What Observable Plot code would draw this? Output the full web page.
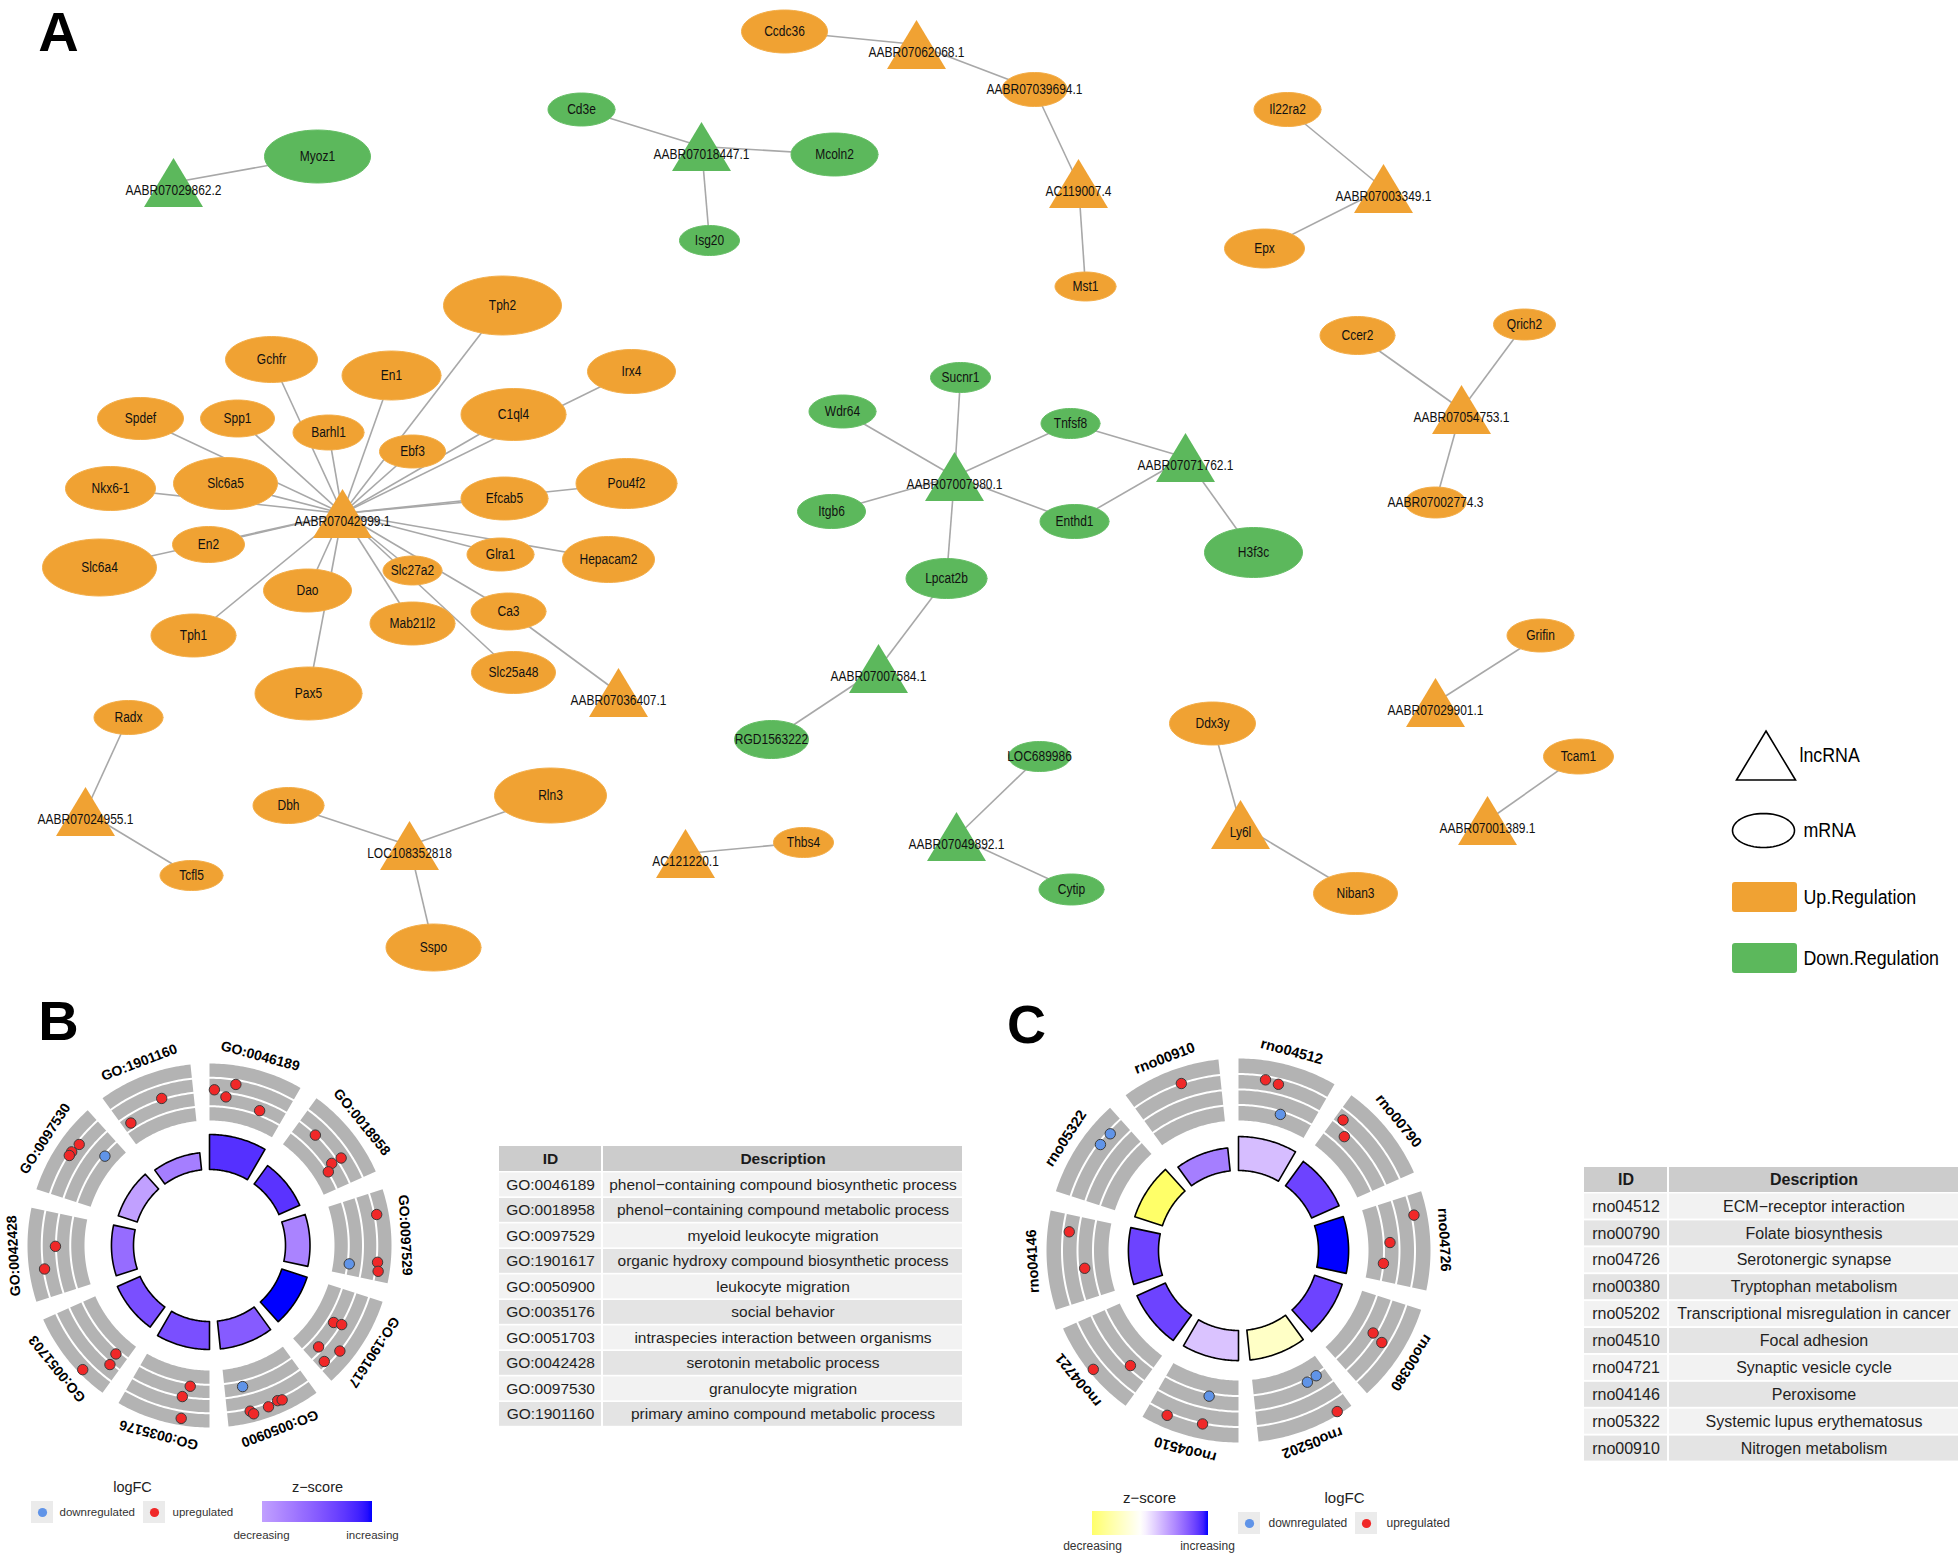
<!DOCTYPE html>
<html>
<head>
<meta charset="utf-8">
<script src="https://cdn.jsdelivr.net/npm/d3@7"></script>
<script src="https://cdn.jsdelivr.net/npm/@observablehq/plot@0.6"></script>
<style>
html,body{margin:0;padding:0;background:#fff;}
#fig{position:relative;width:1960px;height:1556px;overflow:hidden;background:#fff;}
#fig > div{position:absolute;}
#fig svg{display:block;max-width:none;}
</style>
</head>
<body>
<div id="fig"></div>
<script>
// ================= DATA =================
// Panel A: lncRNA–mRNA network
const lncNames = ["AABR07029862.2","AABR07062068.1","AABR07018447.1","AC119007.4","AABR07003349.1","AABR07054753.1","AABR07071762.1","AABR07007980.1","AABR07042999.1","AABR07036407.1","AABR07007584.1","AABR07029901.1","AABR07024955.1","AABR07001389.1","Ly6l","LOC108352818","AC121220.1","AABR07049892.1"];
const lncRegulation = ["Down","Up","Down","Up","Up","Up","Down","Down","Up","Up","Down","Up","Up","Up","Up","Up","Up","Down"];
const mrnaNames = ["Myoz1","Cd3e","Mcoln2","Isg20","Ccdc36","AABR07039694.1","Mst1","Il22ra2","Epx","Ccer2","Qrich2","AABR07002774.3","Tph2","Gchfr","En1","Irx4","Spdef","Spp1","Barhl1","C1ql4","Ebf3","Nkx6-1","Slc6a5","Efcab5","Pou4f2","En2","Slc6a4","Glra1","Hepacam2","Slc27a2","Dao","Ca3","Mab21l2","Tph1","Slc25a48","Pax5","Radx","Tcfl5","Dbh","Rln3","Sspo","Sucnr1","Wdr64","Tnfsf8","Itgb6","Enthd1","Lpcat2b","RGD1563222","LOC689986","Cytip","Thbs4","Ddx3y","Grifin","Tcam1","Niban3","H3f3c"];
const mrnaRegulation = ["Down","Down","Down","Down","Up","Up","Up","Up","Up","Up","Up","Up","Up","Up","Up","Up","Up","Up","Up","Up","Up","Up","Up","Up","Up","Up","Up","Up","Up","Up","Up","Up","Up","Up","Up","Up","Up","Up","Up","Up","Up","Down","Down","Down","Down","Down","Down","Down","Down","Down","Up","Up","Up","Up","Up","Down"];
const interactions = [
  ["AABR07029862.2","Myoz1"],
  ["AABR07018447.1","Cd3e"],["AABR07018447.1","Mcoln2"],["AABR07018447.1","Isg20"],
  ["AABR07062068.1","Ccdc36"],["AABR07062068.1","AABR07039694.1"],
  ["AC119007.4","AABR07039694.1"],["AC119007.4","Mst1"],
  ["AABR07003349.1","Il22ra2"],["AABR07003349.1","Epx"],
  ["AABR07054753.1","Ccer2"],["AABR07054753.1","Qrich2"],["AABR07054753.1","AABR07002774.3"],
  ["AABR07042999.1","Tph2"],["AABR07042999.1","Gchfr"],["AABR07042999.1","En1"],["AABR07042999.1","Irx4"],
  ["AABR07042999.1","C1ql4"],["AABR07042999.1","Spdef"],["AABR07042999.1","Spp1"],["AABR07042999.1","Barhl1"],
  ["AABR07042999.1","Ebf3"],["AABR07042999.1","Nkx6-1"],["AABR07042999.1","Slc6a5"],["AABR07042999.1","Efcab5"],
  ["AABR07042999.1","Pou4f2"],["AABR07042999.1","En2"],["AABR07042999.1","Slc6a4"],["AABR07042999.1","Glra1"],
  ["AABR07042999.1","Hepacam2"],["AABR07042999.1","Slc27a2"],["AABR07042999.1","Dao"],["AABR07042999.1","Pax5"],
  ["AABR07042999.1","Ca3"],["AABR07042999.1","Mab21l2"],["AABR07042999.1","Tph1"],["AABR07042999.1","Slc25a48"],
  ["AABR07036407.1","Ca3"],
  ["AABR07007980.1","Sucnr1"],["AABR07007980.1","Wdr64"],["AABR07007980.1","Tnfsf8"],["AABR07007980.1","Itgb6"],
  ["AABR07007980.1","Enthd1"],["AABR07007980.1","Lpcat2b"],
  ["AABR07071762.1","Tnfsf8"],["AABR07071762.1","Enthd1"],["AABR07071762.1","H3f3c"],
  ["AABR07007584.1","Lpcat2b"],["AABR07007584.1","RGD1563222"],
  ["AABR07024955.1","Radx"],["AABR07024955.1","Tcfl5"],
  ["LOC108352818","Dbh"],["LOC108352818","Rln3"],["LOC108352818","Sspo"],
  ["AC121220.1","Thbs4"],
  ["AABR07049892.1","LOC689986"],["AABR07049892.1","Cytip"],
  ["Ly6l","Ddx3y"],["Ly6l","Niban3"],
  ["AABR07029901.1","Grifin"],
  ["AABR07001389.1","Tcam1"]
];
const networkLegendLabels = ["lncRNA","mRNA","Up.Regulation","Down.Regulation"];

// Network layout (node centres; ellipse width/height for mRNA)
const lncLayout = [[173,182],[916,44],[701,146],[1078,183],[1383,188],[1461,409],[1185,457],[954,476],[342,513],[618,692],[878,668],[1435,702],[85,811],[1487,820],[1240,824],[409,845],[685,853],[956,836]];
const mrnaLayout = [[317,156,106,53],[581,109,67,33],[834,154,87,43],[709,240,60,30],[784,31,86,43],[1034,89,65,34],[1085,286,61,29],[1287,109,67,34],[1264,248,80,39],[1357,335,75,38],[1524,324,62,31],[1435,502,61,31],[502,305,118,59],[271,359,92,46],[391,375,99,49],[631,371,88,44],[140,418,86,42],[237,418,74,37],[328,432,71,35],[513,414,105,52],[412,451,66,33],[110,488,90,44],[225,483,104,52],[504,498,87,43],[626,483,101,50],[208,544,72,36],[99,567,114,57],[500,554,67,33],[608,559,92,46],[412,570,59,29],[307,590,88,43],[508,611,75,37],[412,623,85,43],[193,635,85,43],[513,672,84,42],[308,693,107,53],[128,717,69,34],[191,875,63,30],[288,805,71,36],[550,795,112,55],[433,947,95,47],[960,377,60,30],[842,411,67,33],[1070,423,59,30],[831,511,68,34],[1074,521,69,34],[946,578,81,40],[771,739,74,38],[1039,756,62,30],[1071,889,65,31],[803,842,60,30],[1212,723,86,43],[1540,635,67,33],[1578,756,70,35],[1355,893,84,42],[1253,552,98,50]];

// Panel B: GO terms
const goIds = ["GO:0046189","GO:0018958","GO:0097529","GO:1901617","GO:0050900","GO:0035176","GO:0051703","GO:0042428","GO:0097530","GO:1901160"];
const goDescriptions = ["phenol\u2212containing compound biosynthetic process","phenol\u2212containing compound metabolic process","myeloid leukocyte migration","organic hydroxy compound biosynthetic process","leukocyte migration","social behavior","intraspecies interaction between organisms","serotonin metabolic process","granulocyte migration","primary amino compound metabolic process"];
const goZscores = [3.5, 3.45, 2.1, 4.0, 2.8, 3.0, 3.0, 2.5, 1.6, 2.2];
const goSignificance = [5.0, 3.25, 3.5, 3.8, 4.0, 4.0, 3.55, 3.15, 2.85, 2.45];   // −log10(adj. p), bar height
// genes per term: [position within sector 0..1, logFC track level 0..1, direction]
const goGenes = [
  [[.06,.54,"up"],[.21,.43,"up"],[.31,.67,"up"],[.68,.33,"up"]],
  [[.26,.49,"up"],[.67,.39,"up"],[.68,.58,"up"],[.74,.26,"up"]],
  [[.25,.79,"up"],[.85,.28,"down"],[.79,.77,"up"],[.89,.80,"up"]],
  [[.46,.37,"up"],[.43,.51,"up"],[.83,.42,"up"],[.70,.75,"up"],[.91,.67,"up"]],
  [[.76,.35,"down"],[.74,.80,"up"],[.71,.86,"up"],[.53,.82,"up"],[.41,.78,"up"],[.36,.80,"up"]],
  [[.26,.30,"up"],[.34,.50,"up"],[.31,.88,"up"]],
  [[.16,.32,"up"],[.13,.53,"up"],[.32,.92,"up"]],
  [[.59,.51,"up"],[.33,.73,"up"]],
  [[.66,.70,"up"],[.54,.73,"up"],[.49,.73,"up"],[.75,.22,"down"]],
  [[.60,.52,"up"],[.11,.36,"up"]]
];

// Panel C: KEGG pathways
const keggIds = ["rno04512","rno00790","rno04726","rno00380","rno05202","rno04510","rno04721","rno04146","rno05322","rno00910"];
const keggDescriptions = ["ECM\u2212receptor interaction","Folate biosynthesis","Serotonergic synapse","Tryptophan metabolism","Transcriptional misregulation in cancer","Focal adhesion","Synaptic vesicle cycle","Peroxisome","Systemic lupus erythematosus","Nitrogen metabolism"];
const keggZscores = [1.1, 3.2, 4.0, 3.2, -1.2, 1.0, 3.2, 3.2, -3.0, 2.2];
const keggSignificance = [4.85, 4.3, 4.3, 4.15, 4.3, 4.3, 4.45, 4.3, 4.15, 3.3];
const keggGenes = [
  [[.30,.69,"up"],[.45,.66,"up"],[.57,.20,"down"]],
  [[.09,.60,"up"],[.23,.41,"up"]],
  [[.22,.79,"up"],[.50,.35,"up"],[.77,.25,"up"]],
  [[.45,.45,"up"],[.49,.65,"up"]],
  [[.28,.30,"down"],[.14,.28,"down"],[.15,.95,"up"]],
  [[.38,.30,"down"],[.78,.80,"up"],[.39,.76,"up"]],
  [[.24,.45,"up"],[.49,.93,"up"]],
  [[.81,.65,"up"],[.38,.40,"up"]],
  [[.81,.70,"down"],[.65,.71,"down"]],
  [[.57,.75,"up"]]
];
const logfcLabels = ["downregulated","upregulated"];
const zscoreEnds = ["decreasing","increasing"];
const tableHeader = ["ID","Description"];

// ================= STYLE =================
const ORANGE = "#F0A233", GREEN = "#5CB85C", EDGE = "#A8A8A8";
const RED = "#F02828", BLUE = "#6094E8";
const FONT = "'Liberation Sans', Arial, Helvetica, sans-serif";
const fig = document.getElementById("fig");
function place(el, left, top){ const d = document.createElement("div"); d.style.left = left+"px"; d.style.top = top+"px"; d.appendChild(el); fig.appendChild(d); }
// horizontally condense labels (the original network figure uses a narrow face)
function condense(svg, items, sx){
  const byName = new Map(items.map(d => [d.t, d]));
  svg.querySelectorAll("text").forEach(t => {
    const d = byName.get(t.textContent);
    if (!d) return;
    t.setAttribute("transform", `translate(${d.x},${d.y}) scale(${sx},1)`);
  });
}

// ================= PANEL A =================
const pos = new Map();
const lncNodes = lncNames.map((name,i) => { const [x,y] = lncLayout[i]; pos.set(name,[x,y]); return {name, reg: lncRegulation[i], x, y}; });
const mrnaNodes = mrnaNames.map((name,i) => { const [x,y,w,h] = mrnaLayout[i]; pos.set(name,[x,y]); return {name, reg: mrnaRegulation[i], x, y, w, h}; });
const edgeData = interactions.map(([a,b]) => ({x1: pos.get(a)[0], y1: pos.get(a)[1], x2: pos.get(b)[0], y2: pos.get(b)[1]}));
const ellipse = (n, steps = 60) => d3.range(steps + 1).map(k => { const t = 2*Math.PI*k/steps; return {id: n.name, reg: n.reg, x: n.x + n.w/2*Math.cos(t), y: n.y + n.h/2*Math.sin(t)}; });
const ellipsePts = mrnaNodes.flatMap(n => ellipse(n));
const triSym = {draw(ctx){ ctx.moveTo(0,-24.5); ctx.lineTo(29.5,24.5); ctx.lineTo(-29.5,24.5); ctx.closePath(); }};
const nodeLabels = [
  ...mrnaNodes.map(n => ({t: n.name, x: n.x, y: n.y})),
  ...lncNodes.map(n => ({t: n.name, x: n.x, y: n.y + 8}))
];

const legA = {
  tri: {x:1765.5, y:755},
  ell: {name:"leg", x:1763, y:830, w:62, h:34},
  rects: [{x1:1732,x2:1797,y1:882,y2:912,reg:"Up"},{x1:1732,x2:1797,y1:943,y2:973,reg:"Down"}],
  text: [{x:1799,y:755},{x:1803,y:830},{x:1803,y:897},{x:1803,y:958}].map((p,i) => ({...p, t: networkLegendLabels[i]}))
};

const H_A = 990;
const plotA = Plot.plot({
  width: 1960, height: H_A, margin: 0,
  style: {fontFamily: FONT, background: "transparent"},
  x: {domain: [0,1960], range: [0,1960], axis: null},
  y: {domain: [0,H_A], range: [0,H_A], axis: null},
  marks: [
    Plot.link(edgeData, {x1:"x1", y1:"y1", x2:"x2", y2:"y2", stroke: EDGE, strokeWidth: 1.6}),
    Plot.line(ellipsePts.filter(d => d.reg === "Up"), {x:"x", y:"y", z:"id", fill: ORANGE, stroke: "#F3AE4A", strokeWidth: 1}),
    Plot.line(ellipsePts.filter(d => d.reg === "Down"), {x:"x", y:"y", z:"id", fill: GREEN, stroke: "#66BE66", strokeWidth: 1}),
    Plot.dot(lncNodes.filter(d => d.reg === "Up"), {x:"x", y:"y", symbol: triSym, fill: ORANGE}),
    Plot.dot(lncNodes.filter(d => d.reg === "Down"), {x:"x", y:"y", symbol: triSym, fill: GREEN}),
    Plot.text(nodeLabels, {x:"x", y:"y", text:"t", fontSize: 15, fill: "#111"}),
    // legend
    Plot.dot([legA.tri], {x:"x", y:"y", symbol: triSym, fill: "none", stroke: "#000", strokeWidth: 1.6}),
    Plot.line(ellipse(legA.ell), {x:"x", y:"y", stroke: "#000", strokeWidth: 1.6, fill: "none"}),
    Plot.rect(legA.rects.filter(d => d.reg === "Up"), {x1:"x1", x2:"x2", y1:"y1", y2:"y2", fill: ORANGE, rx: 3}),
    Plot.rect(legA.rects.filter(d => d.reg === "Down"), {x1:"x1", x2:"x2", y1:"y1", y2:"y2", fill: GREEN, rx: 3}),
    Plot.text(legA.text, {x:"x", y:"y", text:"t", textAnchor: "start", fontSize: 20, fill: "#000"}),
    Plot.text([{t:"A", x:58, y:33}], {x:"x", y:"y", text:"t", fontSize: 56, fontWeight: "bold", fill: "#000"})
  ]
});
condense(plotA, nodeLabels, 0.8);
condense(plotA, legA.text, 0.89);
place(plotA, 0, 0);

// ================= GO CIRCLES =================
function polar(c, a, r){ const t = a*Math.PI/180; return [c.cx + r*Math.sin(t), c.cy - c.sy*r*Math.cos(t)]; }
function annulus(c, a0, a1, r0, r1, extra){
  const pts = [], N = 40;
  for (let k = 0; k <= N; k++){ const [x,y] = polar(c, a0+(a1-a0)*k/N, r1); pts.push({...extra, x, y}); }
  for (let k = N; k >= 0; k--){ const [x,y] = polar(c, a0+(a1-a0)*k/N, r0); pts.push({...extra, x, y}); }
  pts.push({...pts[0]});
  return pts;
}
function goCircle(cfg){
  const {ids, z, sig, genes, c, rz0, rzUnit, rt, rl, labelSize, W, H, letter, leg, gradId, legFont} = cfg;
  const bars = [], tracks = [], grid = [], dots = [], labels = [];
  ids.forEach((id, i) => {
    const a0 = i*36, a1 = a0 + 30;
    bars.push(...annulus(c, a0, a1, rz0, rz0 + rzUnit*sig[i], {id, zscore: z[i]}));
    tracks.push(...annulus(c, a0, a1, rt[0], rt[1], {id}));
    [0.25, 0.5, 0.75].forEach(f => {
      const r = rt[0] + f*(rt[1]-rt[0]);
      for (let k = 0; k <= 40; k++){ const [x,y] = polar(c, a0+(a1-a0)*k/40, r); grid.push({key: id+f, x, y}); }
    });
    const [lx, ly] = polar(c, a0 + 15, rl);
    labels.push({id, x: lx, y: ly, rot: a0 + 15});
    genes[i].forEach(([f, l, dir]) => { const [x,y] = polar(c, a0 + f*30, rt[0] + l*(rt[1]-rt[0])); dots.push({x, y, dir}); });
  });
  const M = d3.max(z, v => Math.abs(v));
  const colorRange = ["#ffff00","#ffffff","#0000ff"];
  const plot = Plot.plot({
    width: W, height: H, margin: 0,
    style: {fontFamily: FONT, background: "transparent"},
    x: {domain: [0,W], range: [0,W], axis: null},
    y: {domain: [0,H], range: [0,H], axis: null},
    color: {type: "linear", domain: [-M, 0, M], range: colorRange, interpolate: "lab"},
    marks: [
      Plot.line(tracks, {x:"x", y:"y", z:"id", fill: "#b3b3b3", stroke: "none"}),
      Plot.line(grid, {x:"x", y:"y", z:"key", stroke: "#ffffff", strokeWidth: 2}),
      Plot.line(bars, {x:"x", y:"y", z:"id", fill:"zscore", stroke: "#000", strokeWidth: 1.6}),
      Plot.dot(dots.filter(d => d.dir === "down"), {x:"x", y:"y", r: 5.2, fill: BLUE, stroke: "#3a3a3a", strokeWidth: 1}),
      Plot.dot(dots.filter(d => d.dir === "up"), {x:"x", y:"y", r: 5.2, fill: RED, stroke: "#3a3a3a", strokeWidth: 1}),
      Plot.text(labels, {x:"x", y:"y", text:"id", rotate:"rot", fontSize: labelSize, fontWeight: "bold", fill: "#000"}),
      Plot.text([letter], {x:"x", y:"y", text:"t", fontSize: letter.size, fontWeight: "bold", fill: "#000"}),
      // legends
      Plot.text(leg.titles, {x:"x", y:"y", text:"t", fontSize: legFont.title, fill: "#222"}),
      Plot.rect(leg.keys, {x1:"x1", x2:"x2", y1:"y1", y2:"y2", fill: "#ebebeb"}),
      Plot.dot(leg.keys.filter(d => d.dir === "down"), {x: d => (d.x1+d.x2)/2, y: d => (d.y1+d.y2)/2, r: 4.6, fill: BLUE}),
      Plot.dot(leg.keys.filter(d => d.dir === "up"), {x: d => (d.x1+d.x2)/2, y: d => (d.y1+d.y2)/2, r: 4.6, fill: RED}),
      Plot.text(leg.keyText, {x:"x", y:"y", text:"t", textAnchor: "start", fontSize: legFont.label, fill: "#333"}),
      Plot.rect([leg.grad], {x1:"x1", x2:"x2", y1:"y1", y2:"y2", fill: `url(#${gradId})`}),
      Plot.text(leg.ends, {x:"x", y:"y", text:"t", fontSize: legFont.label, fill: "#333"})
    ]
  });
  // gradient legend stops from the plot's own colour scale
  let col;
  try { const s = plot.scale("color"); col = v => s.apply(v); col(0); } catch(e) { col = null; }
  if (!col) { col = d3.scaleLinear().domain([-M,0,M]).range(colorRange).interpolate(d3.interpolateLab); }
  const ns = "http://www.w3.org/2000/svg";
  const defs = document.createElementNS(ns, "defs");
  const lg = document.createElementNS(ns, "linearGradient");
  lg.setAttribute("id", gradId); lg.setAttribute("x1","0"); lg.setAttribute("x2","1"); lg.setAttribute("y1","0"); lg.setAttribute("y2","0");
  const z0 = d3.min(z), z1 = d3.max(z);
  for (let k = 0; k <= 24; k++){
    const st = document.createElementNS(ns, "stop");
    st.setAttribute("offset", (k/24*100)+"%");
    st.setAttribute("stop-color", col(z0 + (z1-z0)*k/24));
    lg.appendChild(st);
  }
  defs.appendChild(lg);
  plot.insertBefore(defs, plot.firstChild);
  return plot;
}

// Panel B (origin 0,990)
const plotB = goCircle({
  ids: goIds, z: goZscores, sig: goSignificance, genes: goGenes,
  c: {cx: 209, cy: 255, sy: 1.0}, rz0: 76, rzUnit: 7, rt: [125, 182], rl: 196, labelSize: 14,
  W: 480, H: 566, gradId: "gradB",
  letter: {t: "B", x: 58, y: 32, size: 56},
  legFont: {title: 14.5, label: 11.5},
  leg: {
    titles: [{t:"logFC", x:132, y:497},{t:"z\u2212score", x:317, y:497}],
    keys: [{x1:31,x2:53,y1:511,y2:533,dir:"down"},{x1:143,x2:165,y1:511,y2:533,dir:"up"}],
    keyText: [{t: logfcLabels[0], x:59, y:522},{t: logfcLabels[1], x:172, y:522}],
    grad: {x1:262, x2:372, y1:511, y2:532},
    ends: [{t: zscoreEnds[0], x:261, y:545},{t: zscoreEnds[1], x:372, y:545}]
  }
});
place(plotB, 0, 990);

// Panel C (origin 1000,990)
const plotC = goCircle({
  ids: keggIds, z: keggZscores, sig: keggSignificance, genes: keggGenes,
  c: {cx: 238, cy: 260, sy: 1.0}, rz0: 80, rzUnit: 7, rt: [130, 192], rl: 206, labelSize: 14.5,
  W: 560, H: 566, gradId: "gradC",
  letter: {t: "C", x: 26, y: 35, size: 54},
  legFont: {title: 15, label: 12},
  leg: {
    titles: [{t:"z\u2212score", x:149, y:508},{t:"logFC", x:344, y:508}],
    keys: [{x1:238,x2:260,y1:522,y2:544,dir:"down"},{x1:355,x2:377,y1:522,y2:544,dir:"up"}],
    keyText: [{t: logfcLabels[0], x:268, y:533},{t: logfcLabels[1], x:386, y:533}],
    grad: {x1:92, x2:208, y1:521, y2:545},
    ends: [{t: zscoreEnds[0], x:92, y:556},{t: zscoreEnds[1], x:207, y:556}]
  }
});
place(plotC, 1000, 990);

// ================= TABLES =================
function tablePlot(ids, descs, t){
  const cells = [], texts = [];
  t.cols.forEach(([a,b], j) => {
    cells.push({x1:a, x2:b, y1:t.head[0], y2:t.head[1], fill:"#cccccc"});
    texts.push({x:(a+b)/2, y:(t.head[0]+t.head[1])/2, t: tableHeader[j], bold: true});
  });
  ids.forEach((id, i) => {
    const y1 = t.row0 + i*t.pitch, y2 = y1 + t.rowH;
    const fill = i % 2 ? "#e4e4e4" : "#f2f2f2";
    const vals = [id, descs[i]];
    t.cols.forEach(([a,b], j) => {
      cells.push({x1:a, x2:b, y1, y2, fill});
      texts.push({x:(a+b)/2, y:(y1+y2)/2, t: vals[j], bold: false});
    });
  });
  return Plot.plot({
    width: t.W, height: t.H, margin: 0,
    style: {fontFamily: FONT, background: "transparent"},
    x: {domain: [0,t.W], range: [0,t.W], axis: null},
    y: {domain: [0,t.H], range: [0,t.H], axis: null},
    color: {type: "identity"},
    marks: [
      Plot.rect(cells, {x1:"x1", x2:"x2", y1:"y1", y2:"y2", fill:"fill"}),
      Plot.text(texts.filter(d => d.bold), {x:"x", y:"y", text:"t", fontSize: t.font, fontWeight: "bold", fill: "#1a1a1a"}),
      Plot.text(texts.filter(d => !d.bold), {x:"x", y:"y", text:"t", fontSize: t.font, fill: "#1f1f1f"})
    ]
  });
}
place(tablePlot(goIds, goDescriptions, {W:480, H:310, head:[16,41], row0:42.5, pitch:25.5, rowH:23.8, cols:[[9,111],[113,472]], font:15.5}), 490, 1130);
place(tablePlot(keggIds, keggDescriptions, {W:390, H:320, head:[17,42], row0:43.5, pitch:26.9, rowH:25, cols:[[14,97],[99,388]], font:16}), 1570, 1150);
</script>
</body>
</html>
